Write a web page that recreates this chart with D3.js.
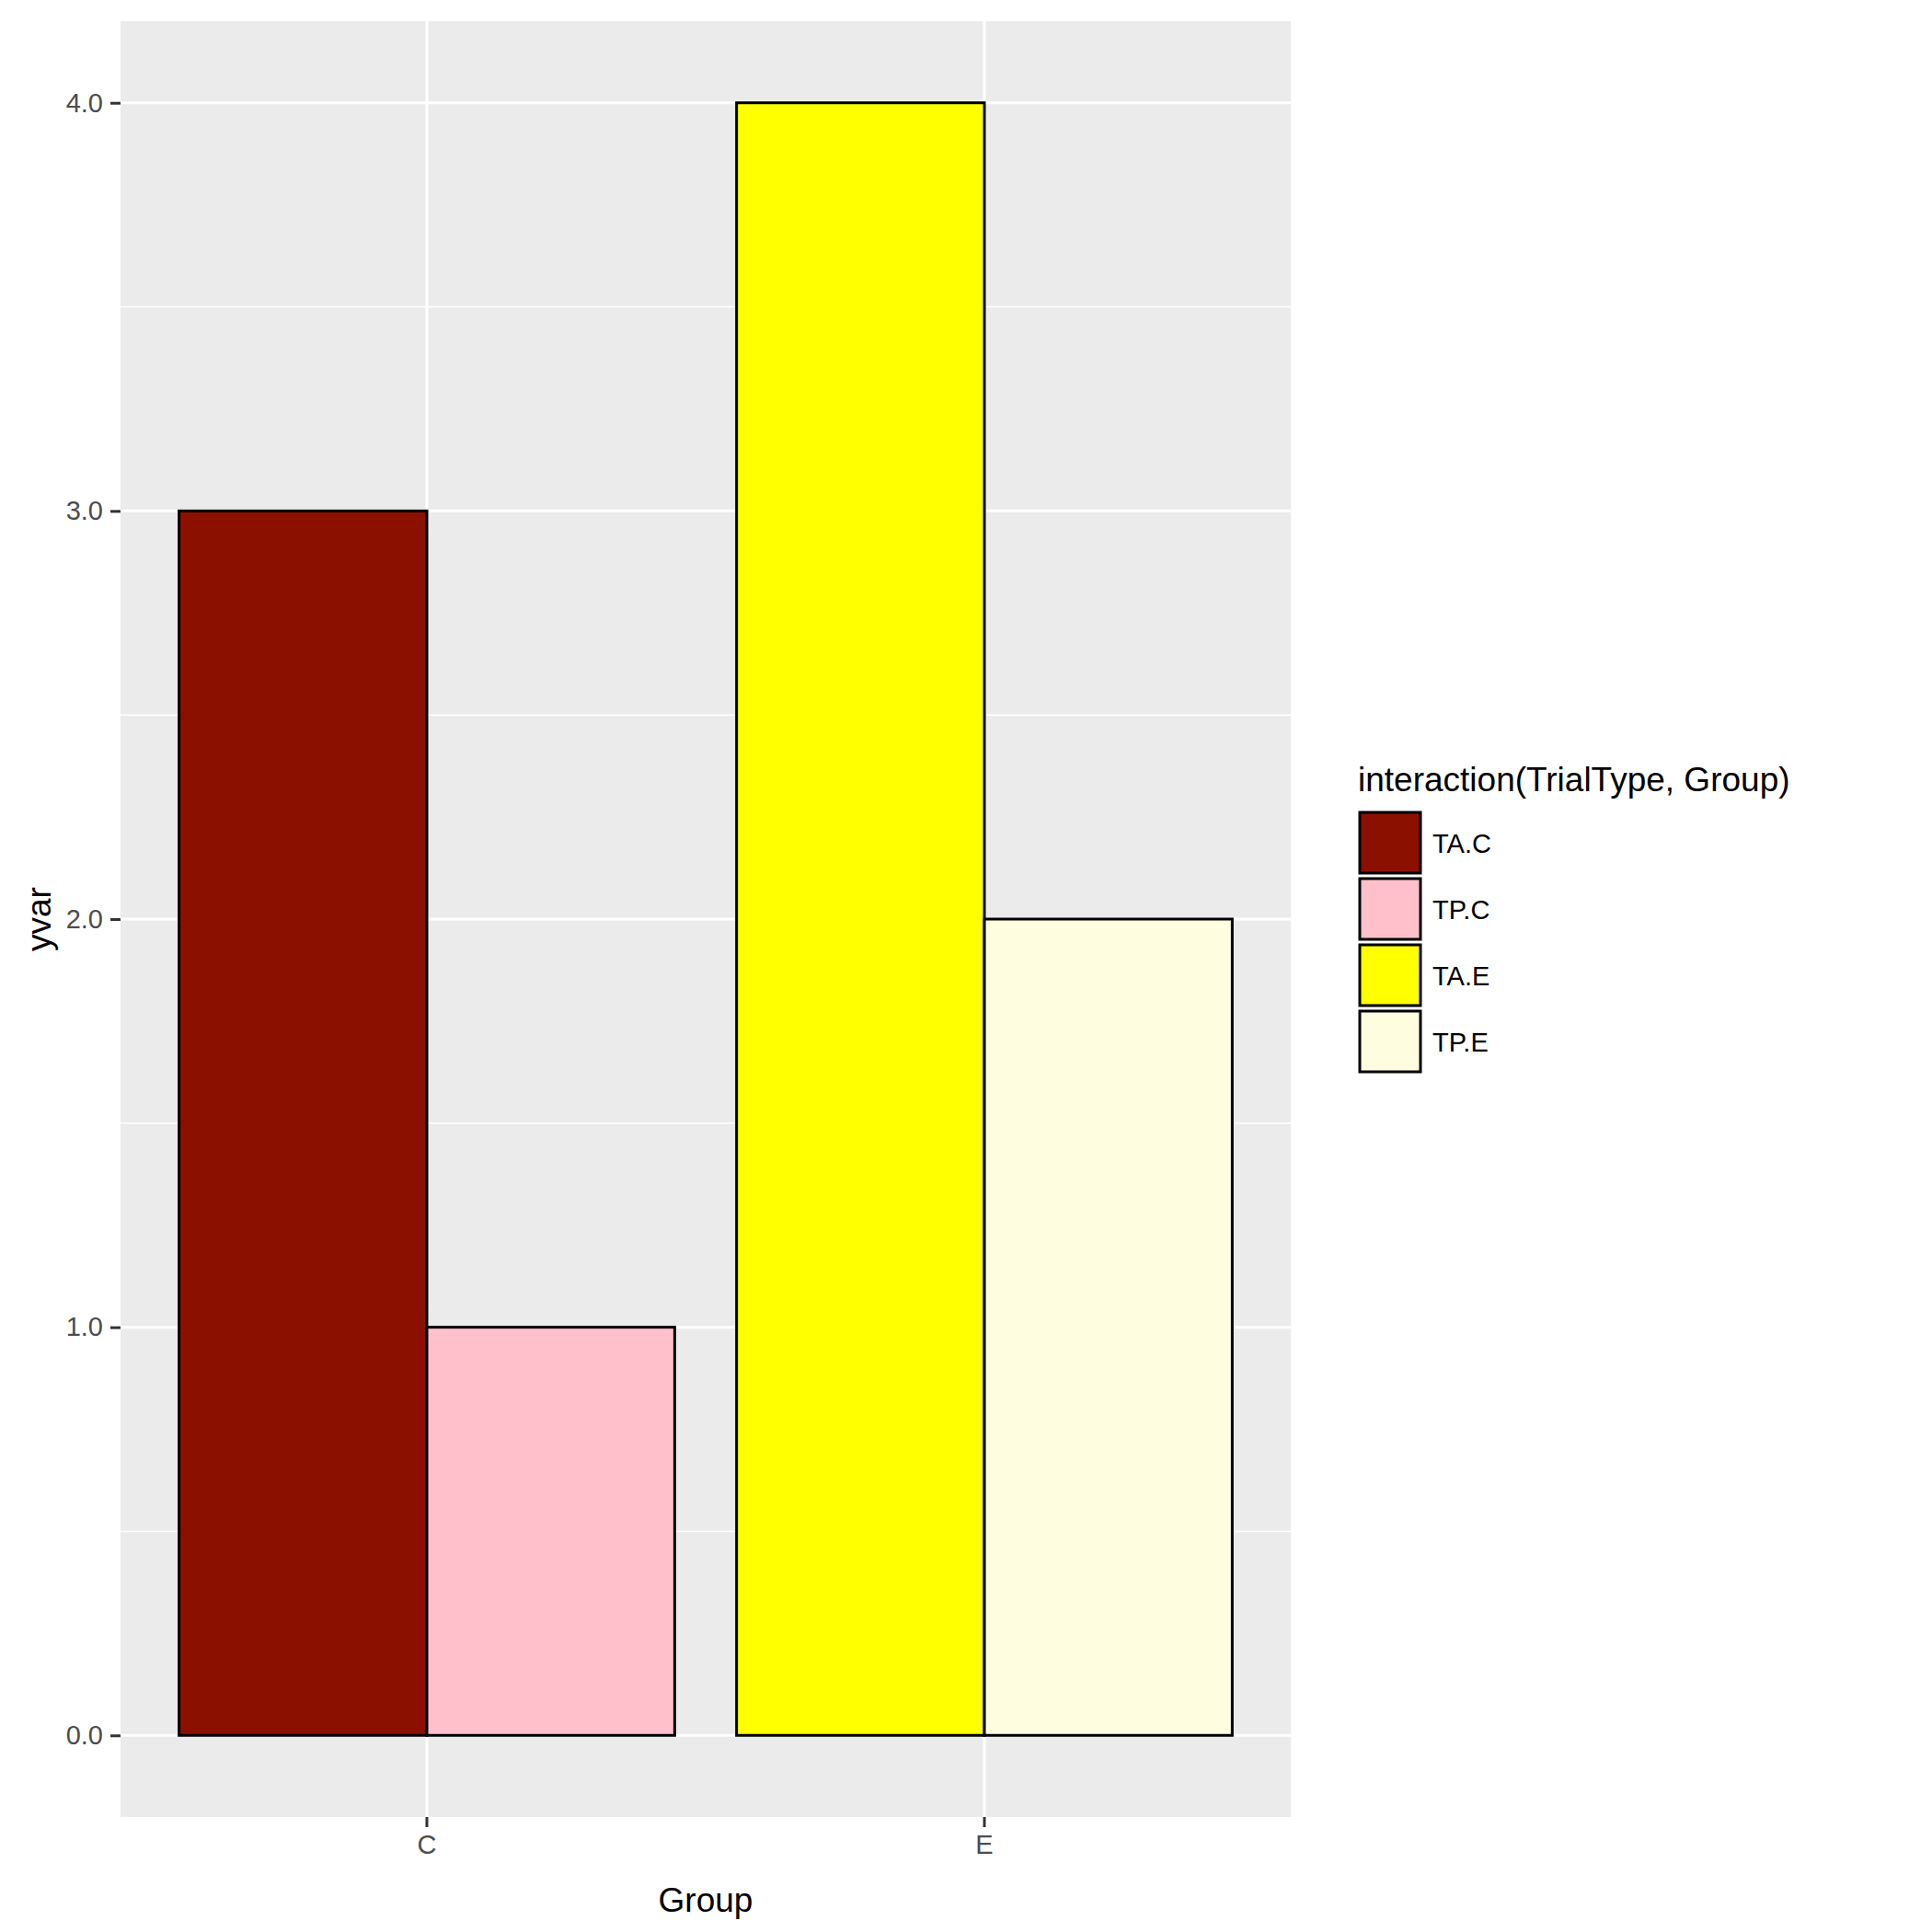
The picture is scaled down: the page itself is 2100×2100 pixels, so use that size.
<!DOCTYPE html><html><head><script src="https://d3js.org/d3.v7.min.js"></script>
<style>body{margin:0;background:#fff}</style></head><body><script>
const groups=["C","E"];
const series=["TA.C","TP.C","TA.E","TP.E"];
const values=[{g:"C",s:"TA.C",v:3},{g:"C",s:"TP.C",v:1},{g:"E",s:"TA.E",v:4},{g:"E",s:"TP.E",v:2}];
const colors=["#8B1000","#FFC0CB","#FFFF00","#FFFDE0"];
const yTicks=[0,1,2,3,4];
const W=2100,H=2100,L=131,R=1403,T=23,B=1975;
const svg=d3.select("body").append("svg").attr("width",W).attr("height",H).style("font-family","Liberation Sans, Arial, sans-serif");
const y=d3.scaleLinear().domain([-0.2,4.2]).range([B,T]);
const x=d3.scaleBand().domain(groups).range([L,R]).paddingInner(0.111).paddingOuter(0.105);
const col=d3.scaleOrdinal().domain(series).range(colors);
svg.append("rect").attr("x",L).attr("y",T).attr("width",R-L).attr("height",B-T).attr("fill","#EBEBEB");
d3.range(0.5,4.2,1).forEach(v=>svg.append("line").attr("x1",L).attr("x2",R).attr("y1",y(v)).attr("y2",y(v)).attr("stroke","#fff").attr("stroke-width",1.5));
yTicks.forEach(v=>svg.append("line").attr("x1",L).attr("x2",R).attr("y1",y(v)).attr("y2",y(v)).attr("stroke","#fff").attr("stroke-width",3));
groups.forEach(g=>{const cx=x(g)+x.bandwidth()/2;svg.append("line").attr("x1",cx).attr("x2",cx).attr("y1",T).attr("y2",B).attr("stroke","#fff").attr("stroke-width",3);});
const sub=d3.scaleBand().domain([0,1]).range([0,x.bandwidth()]);
values.forEach(d=>{const i=series.indexOf(d.s)%2;
svg.append("rect").attr("x",x(d.g)+sub(i)).attr("width",sub.bandwidth()).attr("y",y(d.v)).attr("height",y(0)-y(d.v)).attr("fill",col(d.s)).attr("stroke","#000").attr("stroke-width",3);});
const ya=svg.append("g").attr("transform",`translate(${L},0)`).call(d3.axisLeft(y).tickValues(yTicks).tickSize(11).tickPadding(8));
const xa=svg.append("g").attr("transform",`translate(0,${B})`).call(d3.axisBottom(x).tickSize(11).tickPadding(8));
[ya,xa].forEach(a=>{a.select(".domain").remove();a.selectAll("line").attr("stroke","#333").attr("stroke-width",3);a.selectAll("text").attr("fill","#4D4D4D").style("font-size","29px").style("font-family","Liberation Sans, Arial, sans-serif");});
svg.append("text").attr("x",(L+R)/2).attr("y",2078).attr("text-anchor","middle").style("font-size","37px").text("Group");
svg.append("text").attr("transform",`translate(55,${(T+B)/2}) rotate(-90)`).attr("text-anchor","middle").style("font-size","37px").text("yvar");
svg.append("text").attr("x",1476).attr("y",860).style("font-size","37px").text("interaction(TrialType, Group)");
series.forEach((s,i)=>{const yy=883+i*72;
svg.append("rect").attr("x",1478).attr("y",yy).attr("width",66).attr("height",66).attr("fill",col(s)).attr("stroke","#000").attr("stroke-width",3);
svg.append("text").attr("x",1557).attr("y",yy+44).style("font-size","29px").text(s);});
</script></body></html>
